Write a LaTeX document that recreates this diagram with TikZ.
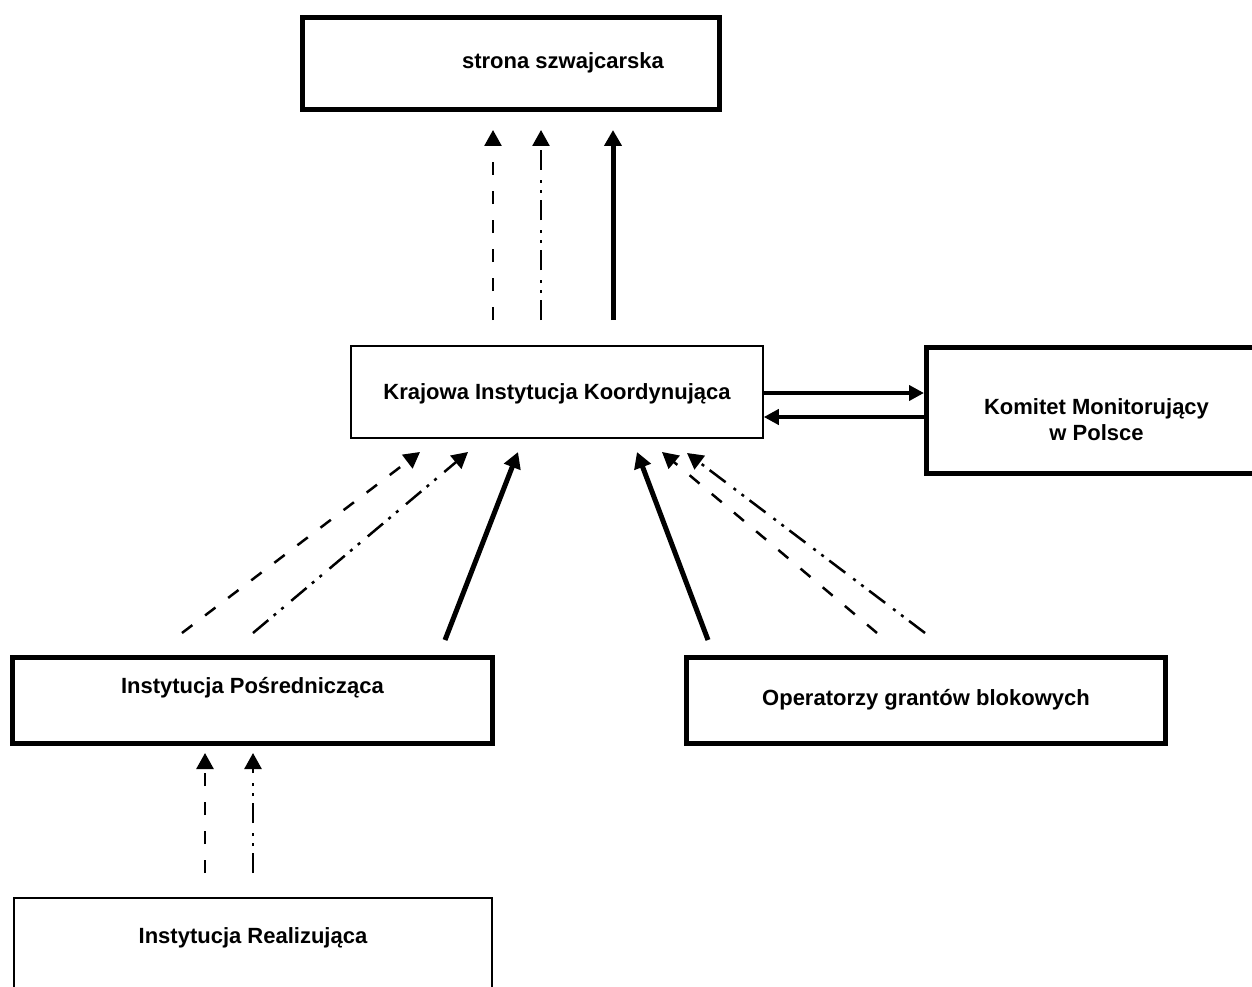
\documentclass[tikz,border=0pt]{standalone}
\usepackage{fontspec}
\setmainfont{Liberation Sans}
\usetikzlibrary{arrows.meta}

\begin{document}
\begin{tikzpicture}[x=1pt,y=-1pt,
        box/.style={draw, rectangle, inner sep=0pt, font=\fontsize{22}{26}\selectfont\bfseries},
        thickbox/.style={box, line width=5pt},
        thinbox/.style={box, line width=1.5pt},
        tip/.style={-{Triangle[length=16pt,width=17pt]}},
        dashar/.style={tip, line width=2.5pt, dash pattern=on 13pt off 16pt},
        dotar/.style={tip, line width=2.5pt, dash pattern=on 20pt off 7pt on 3pt off 7pt on 3pt off 10pt},
        fullar/.style={tip, line width=5pt},
        sidear/.style={-{Triangle[length=15pt,width=15pt]}, line width=4pt}]
            \useasboundingbox (0,0) rectangle (1252,987);

            \node[thickbox, minimum width=417, minimum height=92, text height=16pt, text depth=6pt] (strona) at (511,63.5) {\hspace*{104pt}strona szwajcarska};
            \node[thinbox, minimum width=412, minimum height=92, text height=16pt, text depth=2pt] (kik) at (557,392) {Krajowa Instytucja Koordynująca};
            \node[thickbox, minimum width=340, minimum height=126, align=center, text height=60pt, text depth=0pt] (komitet) at (1096.5,410.5) {Komitet Monitorujący\\w Polsce};
            \node[thickbox, minimum width=480, minimum height=86, text height=16pt, text depth=30pt] (ip) at (252.5,700.5) {Instytucja Pośrednicząca};
            \node[thickbox, minimum width=479, minimum height=86, text height=16pt, text depth=6pt] (ogb) at (926,700.5) {Operatorzy grantów blokowych};
            \node[thinbox, minimum width=478, minimum height=92, text height=16pt, text depth=18pt] (ir) at (253,944) {Instytucja Realizująca};

            \coordinate (kik-a) at (493,320);
            \coordinate (kik-b) at (541,320);
            \coordinate (kik-c) at (613,320);
            \coordinate (strona-a) at (493,130);
            \coordinate (strona-b) at (541,130);
            \coordinate (strona-c) at (613,130);
            \draw[dashar] (kik-a) -- (strona-a);
            \draw[dotar] (kik-b) -- (strona-b);
            \draw[fullar] (kik-c) -- (strona-c);

            \draw[sidear] ([yshift=-1pt]kik.east) -- ([yshift=-1pt]kik.east -| komitet.west);
            \draw[sidear] ([yshift=-25pt]kik.east -| komitet.west) -- ([yshift=-25pt]kik.east);

            \coordinate (ip-a) at (182,633);
            \coordinate (ip-b) at (253,633);
            \coordinate (ip-c) at (445,640);
            \coordinate (kik-d) at (420,452);
            \coordinate (kik-e) at (468,452);
            \coordinate (kik-f) at (518,452);
            \draw[dashar] (ip-a) -- (kik-d);
            \draw[dotar] (ip-b) -- (kik-e);
            \draw[fullar] (ip-c) -- (kik-f);

            \coordinate (ogb-a) at (708,640);
            \coordinate (ogb-b) at (877,633);
            \coordinate (ogb-c) at (925,633);
            \coordinate (kik-g) at (637,452);
            \coordinate (kik-h) at (662,452);
            \coordinate (kik-i) at (687,453);
            \draw[fullar] (ogb-a) -- (kik-g);
            \draw[dashar] (ogb-b) -- (kik-h);
            \draw[dotar] (ogb-c) -- (kik-i);

            \coordinate (ir-a) at (205,873);
            \coordinate (ir-b) at (253,873);
            \coordinate (ip-d) at (205,753);
            \coordinate (ip-e) at (253,753);
            \draw[dashar] (ir-a) -- (ip-d);
            \draw[dotar] (ir-b) -- (ip-e);
        \end{tikzpicture}
\end{document}
